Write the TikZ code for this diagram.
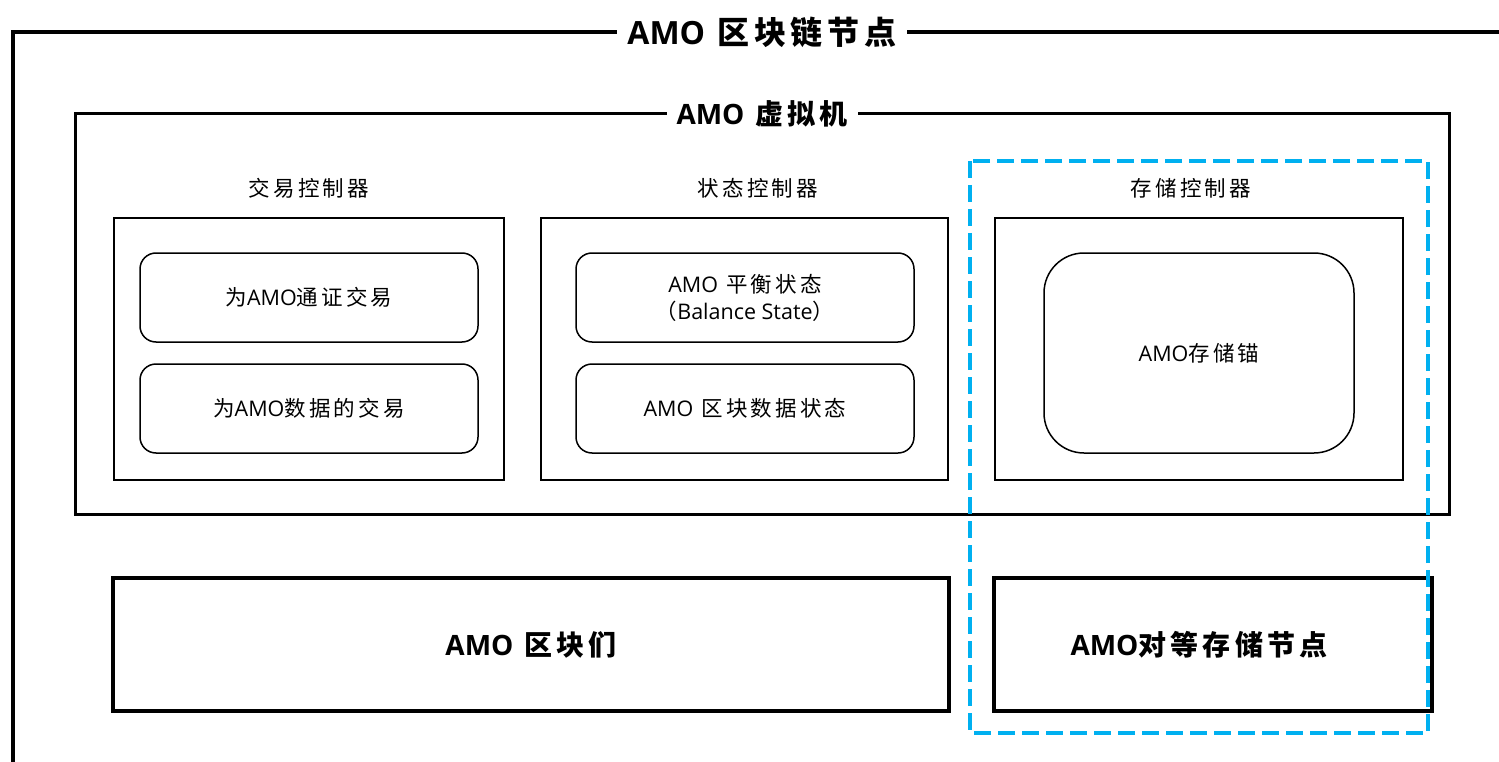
\documentclass[tikz,border=0pt]{standalone}
\usepackage{fontspec}
\setmainfont{Noto Sans CJK SC}[LetterSpace=15]
\newfontfamily\lat{Open Sans}
\definecolor{dashblue}{HTML}{00B0F0}
\newcommand{\amo}{{\lat AMO}}
\begin{document}
\begin{tikzpicture}[x=1pt,y=-1pt,
  framebox/.style={draw, line width=4pt},
  vmbox/.style={draw, line width=3pt},
  title/.style={fill=white, inner xsep=10pt, inner ysep=2pt, font=\bfseries\fontsize{32}{36}\selectfont},
  subtitle/.style={fill=white, inner xsep=10pt, inner ysep=2pt, font=\bfseries\fontsize{28}{32}\selectfont},
  ctrlbox/.style={draw, line width=1.8pt, minimum width=#1, minimum height=262pt, inner sep=0pt},
  ctrllabel/.style={font=\fontsize{21.5}{26}\selectfont},
  itembox/.style={draw, line width=1.5pt, rounded corners=16pt, minimum width=338pt, minimum height=89pt, inner sep=0pt, align=center, font=\fontsize{21.5}{26}\selectfont},
  bigbox/.style={draw, line width=4pt, minimum height=133pt, inner sep=0pt, font=\bfseries\fontsize{28}{32}\selectfont},
  bigtext/.style={inner sep=0pt, font=\bfseries\fontsize{28}{32}\selectfont},
  dashbox/.style={draw=dashblue, line width=4pt, dash pattern=on 17pt off 7pt}
]
\useasboundingbox (0,0) rectangle (1499,762);
\clip (0,0) rectangle (1499,762);

% outer frame
\coordinate (ofA) at (1530,32);
\coordinate (ofB) at (13,32);
\coordinate (ofC) at (13,800);
\draw[framebox] (ofA) -- (ofB) -- (ofC);
\node[title] (t1) at (762,32) {\amo{} 区块链节点};

% VM box
\node[vmbox, minimum width=1374pt, minimum height=400pt, inner sep=0pt] (vm) at (762,314) {};
\node[subtitle] (t2) at (762,114) {\amo{} 虚拟机};

% controllers
\node[ctrlbox=390pt] (c1) at (309,349) {};
\node[ctrlbox=407pt] (c2) at (744.5,349) {};
\node[ctrlbox=408pt] (c3) at (1199,349) {};
\node[ctrllabel] (l1) at (309,188) {交易控制器};
\node[ctrllabel] (l2) at (758,188) {状态控制器};
\node[ctrllabel] (l3) at (1191,188) {存储控制器};

% items
\node[itembox] (i1) at (309,297.5) {为\amo{}通证交易};
\node[itembox] (i2) at (309,408.5) {为\amo{}数据的交易};
\node[itembox] (i3) at (745,297.5) {\amo{} 平衡状态\\[1pt]（{\lat Balance State}）};
\node[itembox] (i4) at (745,408.5) {\amo{} 区块数据状态};
\node[itembox, rounded corners=40pt, minimum width=310pt, minimum height=200pt] (i5) at (1199,353) {\amo{}存储锚};

% bottom
\node[bigbox, minimum width=836pt] (b1) at (531,644.5) {\amo{} 区块们};
\node[bigbox, minimum width=438pt] (b2) at (1213,644.5) {};
\node[bigtext] (b2t) at ([xshift=-14pt]b2.center) {\amo{}对等存储节点};

% dashed region
\draw[dashbox] (970,161) rectangle (1428,733);
\end{tikzpicture}
\end{document}
